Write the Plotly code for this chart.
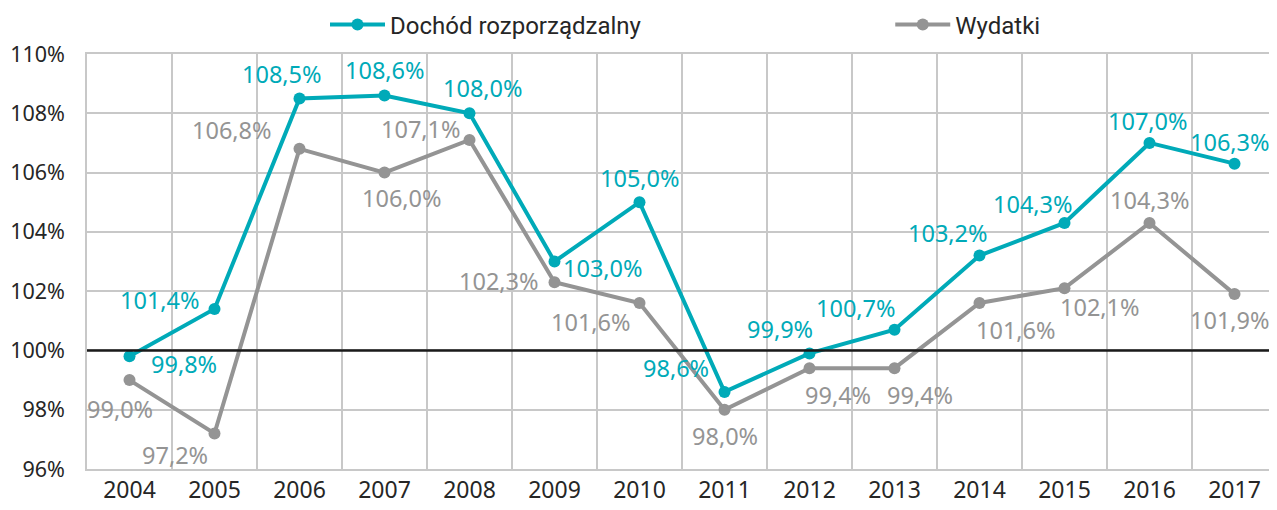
import plotly.graph_objects as go

years = ["2004", "2005", "2006", "2007", "2008", "2009", "2010",
         "2011", "2012", "2013", "2014", "2015", "2016", "2017"]
dochod = [99.8, 101.4, 108.5, 108.6, 108.0, 103.0, 105.0,
          98.6, 99.9, 100.7, 103.2, 104.3, 107.0, 106.3]
wydatki = [99.0, 97.2, 106.8, 106.0, 107.1, 102.3, 101.6,
           98.0, 99.4, 99.4, 101.6, 102.1, 104.3, 101.9]
y_ticks = [96, 98, 100, 102, 104, 106, 108, 110]
baseline = 100

# label offsets in pixels (dx, dy; dy positive = down)
off_d = [(54, 8), (-55, -9), (-18, -24), (0, -26), (13, -25), (48, 6), (0, -24),
         (-49, -24), (-30, -24), (-39, -22), (-32, -23), (-32, -19), (-2, -22), (-5, -22)]
off_w = [(-10, 29), (-40, 22), (-68, -19), (17, 25), (-49, -11), (-56, -1), (-49, 19),
         (0, 26), (28, 27), (25, 27), (36, 27), (35, 19), (0, -23), (-5, 26)]

TEAL = "#00AAB8"
GRAY = "#949494"
FONT = "Noto Sans, Open Sans, sans-serif"
LFONT = "Roboto, sans-serif"

def fmt(v):
    return f"{v:.1f}".replace(".", ",") + "%"

fig = go.Figure()
fig.add_trace(go.Scatter(x=years, y=dochod, mode="lines+markers", name="Dochód rozporządzalny",
                         line=dict(color=TEAL, width=4), marker=dict(size=12, color=TEAL),
                         legend="legend"))
fig.add_trace(go.Scatter(x=years, y=wydatki, mode="lines+markers", name="Wydatki",
                         line=dict(color=GRAY, width=4), marker=dict(size=12, color=GRAY),
                         legend="legend2"))

annotations = []
for vals, offs, col in ((dochod, off_d, TEAL), (wydatki, off_w, GRAY)):
    for i, (v, (dx, dy)) in enumerate(zip(vals, offs)):
        annotations.append(dict(x=i, y=v, xref="x", yref="y", text=fmt(v), showarrow=False,
                                xshift=dx, yshift=-dy,
                                font=dict(family=FONT, size=23.5, color=col)))

fig.add_shape(type="line", xref="paper", yref="y", x0=0, x1=1, y0=baseline, y1=baseline,
              line=dict(color="#1a1a1a", width=2.5), layer="above")

leg_common = dict(orientation="h", yanchor="middle", y=1.07, xanchor="left", itemwidth=55,
                  font=dict(family=LFONT, size=24, color="#262626"), bgcolor="rgba(0,0,0,0)")

fig.update_layout(
    width=1277, height=510,
    margin=dict(l=79, r=8, t=46, b=49, autoexpand=False),
    paper_bgcolor="white", plot_bgcolor="white",
    font=dict(family=FONT, size=22, color="#262626"),
    annotations=annotations,
    showlegend=True,
    legend=dict(x=0.2, **leg_common),
    legend2=dict(x=0.675, **leg_common),
    xaxis=dict(type="category", tickson="boundaries", showgrid=True, gridcolor="#C8C8C8",
               gridwidth=1.5, showline=True, linecolor="#C8C8C8", linewidth=1.5, mirror=True,
               ticks="outside", ticklen=13, tickcolor="rgba(0,0,0,0)",
               tickfont=dict(family=FONT, size=23, color="#262626"),
               range=[-0.5, 13.5], fixedrange=True),
    yaxis=dict(range=[96, 110], tickvals=y_ticks, ticktext=[f"{v}%" for v in y_ticks],
               showgrid=True, gridcolor="#C8C8C8", gridwidth=1.5, zeroline=False,
               showline=True, linecolor="#C8C8C8", linewidth=1.5, mirror=True,
               ticks="outside", ticklen=16, tickcolor="rgba(0,0,0,0)",
               tickfont=dict(family=FONT, size=21.5, color="#262626")),
)

fig.write_html("out.html")
